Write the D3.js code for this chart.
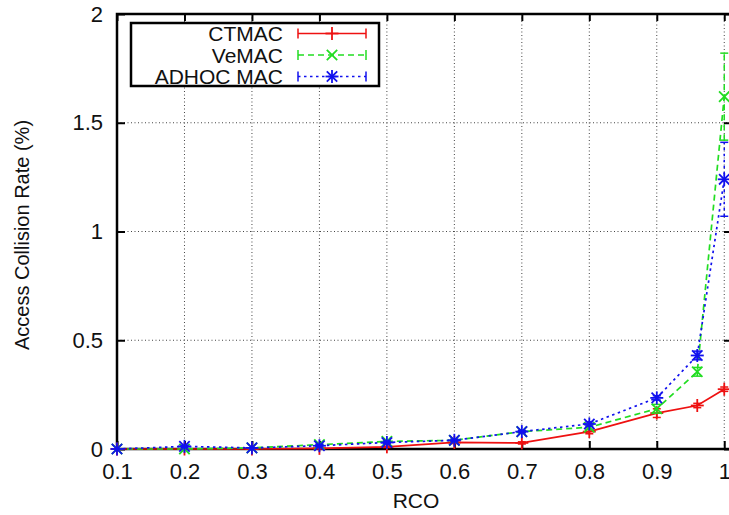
<!DOCTYPE html>
<html>
<head>
<meta charset="utf-8">
<script src="https://cdn.jsdelivr.net/npm/d3@7"></script>
<style>
  body { margin: 0; background: #fff; }
  text { font-family: "Liberation Sans", Arial, sans-serif; fill: #111; }
</style>
</head>
<body>
<div id="chart"></div>
<script>
// RCO values on the x axis
var rco = [0.1, 0.2, 0.3, 0.4, 0.5, 0.6, 0.7, 0.8, 0.9, 0.96, 1.0]

// access collision rate (%) per protocol
var ctmac = [0, 0, 0, 0.003, 0.01, 0.03, 0.028, 0.08, 0.165, 0.2, 0.275]
var vemac = [0, 0, 0.005, 0.02, 0.035, 0.04, 0.08, 0.1, 0.185, 0.355, 1.62]
var adhoc = [0, 0.012, 0.005, 0.015, 0.03, 0.04, 0.08, 0.115, 0.235, 0.43, 1.24]

// error bar half widths
var ctmacErr = [0, 0, 0, 0.002, 0.003, 0.005, 0.005, 0.01, 0.02, 0.01, 0.01]
var vemacErr = [0, 0, 0, 0.003, 0.005, 0.005, 0.005, 0.01, 0.02, 0.02, 0.2]
var adhocErr = [0, 0.005, 0, 0.005, 0.005, 0.005, 0.005, 0.01, 0.01, 0.02, 0.17]

var xTicks = [0.1, 0.2, 0.3, 0.4, 0.5, 0.6, 0.7, 0.8, 0.9, 1]
var yTicks = [0, 0.5, 1, 1.5, 2]

var seriesNames = ["CTMAC", "VeMAC", "ADHOC MAC"]

var series = [
  { name: seriesNames[0], values: ctmac, err: ctmacErr, color: "#ee1111", dash: null, marker: "plus" },
  { name: seriesNames[1], values: vemac, err: vemacErr, color: "#22dd22", dash: "6,4", marker: "cross" },
  { name: seriesNames[2], values: adhoc, err: adhocErr, color: "#1111ee", dash: "2.5,3.5", marker: "star" }
]

var W = 729, H = 515
var margin = { top: 14, left: 117 }
var width = 614, height = 435

var svg = d3.select("#chart").append("svg")
  .attr("width", W).attr("height", H)

var x = d3.scaleLinear().domain([0.1, 1.01]).range([0, width])
var y = d3.scaleLinear().domain([0, 2]).range([height, 0])

var g = svg.append("g")
  .attr("transform", "translate(" + margin.left + "," + margin.top + ")")

// dotted grid
g.append("g").selectAll("line").data(xTicks.slice(1)).enter().append("line")
  .attr("x1", function (d) { return x(d) }).attr("x2", function (d) { return x(d) })
  .attr("y1", 0).attr("y2", height)
  .attr("stroke", "#444").attr("stroke-width", 1).attr("stroke-dasharray", "1,2.5")
g.append("g").selectAll("line").data(yTicks.slice(1, 4)).enter().append("line")
  .attr("x1", 0).attr("x2", width)
  .attr("y1", function (d) { return y(d) }).attr("y2", function (d) { return y(d) })
  .attr("stroke", "#444").attr("stroke-width", 1).attr("stroke-dasharray", "1,2.5")

// axes with inward ticks
var xAxis = d3.axisBottom(x).tickValues(xTicks).tickSize(-8).tickPadding(14)
  .tickFormat(function (d) { return d === 1 ? "1" : d3.format(".1f")(d) })
var yAxis = d3.axisLeft(y).tickValues(yTicks).tickSize(-8).tickPadding(14)
  .tickFormat(function (d) { return d })

function styleAxis(sel) {
  sel.select(".domain").remove()
  sel.selectAll(".tick line").attr("stroke", "#000").attr("stroke-width", 2)
  sel.selectAll(".tick text").style("font-size", "22px").attr("fill", "#111")
}

g.append("g").attr("transform", "translate(0," + height + ")").call(xAxis).call(styleAxis)
g.append("g").call(yAxis).call(styleAxis)
g.selectAll(".tick text").style("font-family", "Liberation Sans, Arial, sans-serif")

// mirrored ticks on top and right
g.append("g").call(d3.axisTop(x).tickValues(xTicks).tickSize(-7).tickFormat(""))
  .call(function (s) { s.select(".domain").remove(); s.selectAll(".tick line").attr("stroke", "#000").attr("stroke-width", 2) })
g.append("g").attr("transform", "translate(" + width + ",0)")
  .call(d3.axisRight(y).tickValues(yTicks).tickSize(-7).tickFormat(""))
  .call(function (s) { s.select(".domain").remove(); s.selectAll(".tick line").attr("stroke", "#000").attr("stroke-width", 2) })

// border
g.append("rect").attr("x", 0).attr("y", 0).attr("width", width).attr("height", height)
  .attr("fill", "none").attr("stroke", "#000").attr("stroke-width", 2.5)

function drawMarker(sel, type, cx, cy, r, color) {
  var m = sel.append("g").attr("transform", "translate(" + cx + "," + cy + ")")
    .attr("stroke", color).attr("stroke-width", 1.8)
  if (type === "plus" || type === "star") {
    m.append("line").attr("x1", -r).attr("x2", r).attr("y1", 0).attr("y2", 0)
    m.append("line").attr("x1", 0).attr("x2", 0).attr("y1", -r).attr("y2", r)
  }
  if (type === "cross" || type === "star") {
    var k = r * 0.8
    m.append("line").attr("x1", -k).attr("x2", k).attr("y1", -k).attr("y2", k)
    m.append("line").attr("x1", -k).attr("x2", k).attr("y1", k).attr("y2", -k)
  }
}

var line = d3.line()
  .x(function (d, i) { return x(rco[i]) })
  .y(function (d) { return y(d) })

var plot = g.append("g")
series.forEach(function (s) {
  var sg = plot.append("g")
  sg.append("path").datum(s.values)
    .attr("d", line).attr("fill", "none")
    .attr("stroke", s.color).attr("stroke-width", 1.7)
    .attr("stroke-dasharray", s.dash)
  // error bars
  s.values.forEach(function (v, i) {
    var e = s.err[i]
    if (e <= 0) return
    var cx = x(rco[i])
    sg.append("line").attr("x1", cx).attr("x2", cx)
      .attr("y1", y(v - e)).attr("y2", y(v + e))
      .attr("stroke", s.color).attr("stroke-width", 1.5).attr("stroke-dasharray", s.dash)
    ;[v - e, v + e].forEach(function (b) {
      sg.append("line").attr("x1", cx - 4).attr("x2", cx + 4)
        .attr("y1", y(b)).attr("y2", y(b))
        .attr("stroke", s.color).attr("stroke-width", 1.5)
    })
  })
  s.values.forEach(function (v, i) {
    drawMarker(sg, s.marker, x(rco[i]), y(v), 6.5, s.color)
  })
})

// legend
var lg = svg.append("g")
lg.append("rect").attr("x", 131).attr("y", 23).attr("width", 248).attr("height", 63)
  .attr("fill", "#fff").attr("stroke", "#000").attr("stroke-width", 2.5)
series.forEach(function (s, i) {
  var ly = 33.5 + i * 21.5
  lg.append("text").attr("x", 283).attr("y", ly + 7.5)
    .attr("text-anchor", "end").style("font-size", "21px").text(s.name)
  lg.append("line").attr("x1", 298).attr("x2", 366).attr("y1", ly).attr("y2", ly)
    .attr("stroke", s.color).attr("stroke-width", 1.5).attr("stroke-dasharray", s.dash)
  ;[298, 366].forEach(function (ex) {
    lg.append("line").attr("x1", ex).attr("x2", ex).attr("y1", ly - 5).attr("y2", ly + 5)
      .attr("stroke", s.color).attr("stroke-width", 1.5)
  })
  drawMarker(lg, s.marker, 332, ly, 6.5, s.color)
})

// axis titles
svg.append("text").attr("x", 416).attr("y", 508)
  .attr("text-anchor", "middle").style("font-size", "21px").text("RCO")
svg.append("text").attr("transform", "translate(29,235) rotate(-90)")
  .attr("text-anchor", "middle").style("font-size", "20px").text("Access Collision Rate (%)")
</script>
</body>
</html>
